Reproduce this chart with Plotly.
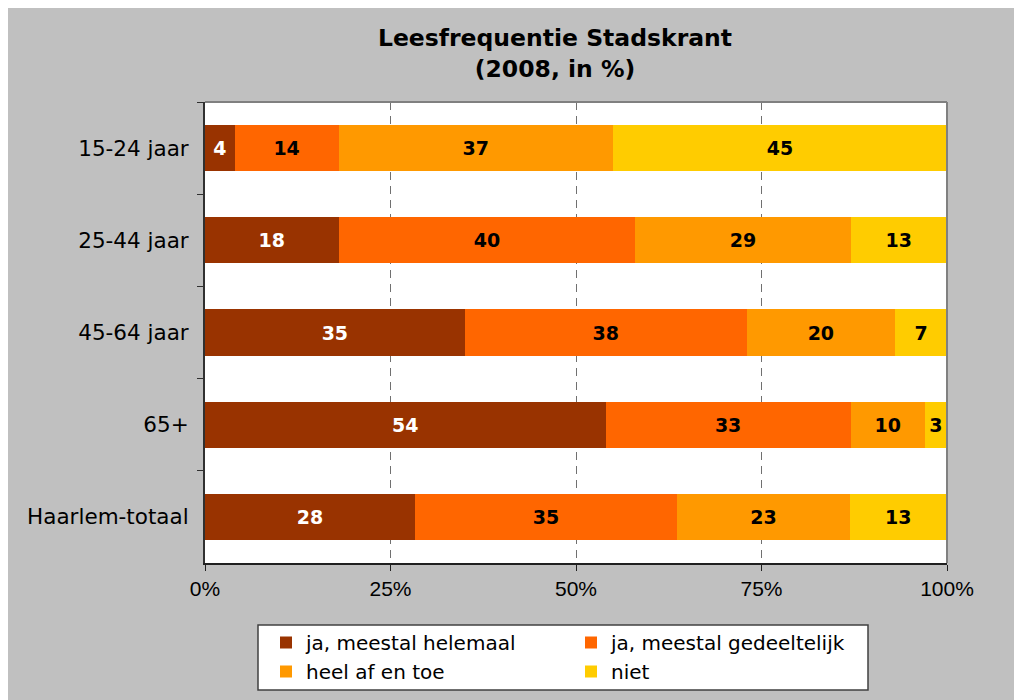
import plotly.graph_objects as go

categories = ["15-24 jaar", "25-44 jaar", "45-64 jaar", "65+", "Haarlem-totaal"]
series_names = ["ja, meestal helemaal", "ja, meestal gedeeltelijk", "heel af en toe", "niet"]
helemaal = [4, 18, 35, 54, 28]
gedeeltelijk = [14, 40, 38, 33, 35]
af_en_toe = [37, 29, 20, 10, 23]
niet = [45, 13, 7, 3, 13]
series_values = [helemaal, gedeeltelijk, af_en_toe, niet]
colors = ["#993300", "#FF6600", "#FF9900", "#FFCC00"]
text_colors = ["white", "black", "black", "black"]
legend_ids = ["legend", "legend2", "legend", "legend2"]
x_tickvals = [0, 25, 50, 75, 100]
x_ticktext = ["0%", "25%", "50%", "75%", "100%"]

W, H = 1014, 692
ML, MR, MT, MB = 197, 75, 94, 137
PW, PH = W - ML - MR, H - MT - MB

fig = go.Figure()
for name, vals, col, tcol, lg in zip(series_names, series_values, colors, text_colors, legend_ids):
    fig.add_trace(go.Bar(
        y=categories, x=vals, name=name, orientation="h",
        marker=dict(color=col, line=dict(width=0)),
        text=[str(v) for v in vals], textposition="inside",
        insidetextanchor="middle", textangle=0, constraintext="none",
        textfont=dict(family="DejaVu Sans", size=19, color=tcol, weight="bold"),
        hoverinfo="skip", legend=lg,
    ))

def px_x(p):
    return (p - ML) / PW

def px_y(p):
    return (H - MB - p) / PH

shapes = [
    dict(type="line", xref="x domain", yref="y domain", x0=0, x1=1, y0=1, y1=1,
         line=dict(color="#808080", width=2), layer="above"),
    dict(type="line", xref="x domain", yref="y domain", x0=1, x1=1, y0=0, y1=1,
         line=dict(color="#808080", width=2), layer="above"),
    # legend box
    dict(type="rect", xref="paper", yref="paper",
         x0=px_x(250), x1=px_x(860), y0=px_y(682), y1=px_y(617),
         fillcolor="white", line=dict(color="#404040", width=1.5), layer="above"),
]

legend_common = dict(
    orientation="v", yanchor="top", xanchor="left",
    bgcolor="rgba(0,0,0,0)", borderwidth=0,
    font=dict(family="DejaVu Sans", size=20, color="black"),
    traceorder="normal", itemwidth=30, tracegroupgap=0,
)

fig.update_layout(
    width=W, height=H,
    margin=dict(l=ML, r=MR, t=MT, b=MB, pad=0, autoexpand=False),
    paper_bgcolor="#C0C0C0", plot_bgcolor="white",
    barmode="stack", barnorm="percent", bargap=0.5,
    shapes=shapes,
    title=dict(
        text="<b>Leesfrequentie Stadskrant<br>(2008, in %)</b>",
        x=px_x(547), xref="paper", xanchor="center",
        y=1 - 38 / H, yref="container", yanchor="middle",
        font=dict(family="DejaVu Sans", size=23.5, color="black"),
    ),
    xaxis=dict(
        range=[0, 100], tickvals=x_tickvals, ticktext=x_ticktext,
        showgrid=True, gridcolor="#707070", griddash="8px,6px", gridwidth=1,
        showline=True, linecolor="#202020", linewidth=2,
        ticks="outside", ticklen=6, tickcolor="#202020",
        tickfont=dict(family="Liberation Sans", size=21, color="black"),
        zeroline=False, fixedrange=True,
    ),
    yaxis=dict(
        categoryorder="array", categoryarray=categories, autorange="reversed",
        showline=True, linecolor="#303030", linewidth=2,
        ticks="outside", ticklen=6, tickcolor="#303030", tickson="boundaries",
        tickfont=dict(family="DejaVu Sans", size=21.5, color="black"),
        showgrid=False, fixedrange=True, ticklabelstandoff=10,
    ),
    showlegend=True,
    legend=dict(x=px_x(258), y=px_y(615), **legend_common),
    legend2=dict(x=px_x(563), y=px_y(615), **legend_common),
)

fig.write_html("out.html")
